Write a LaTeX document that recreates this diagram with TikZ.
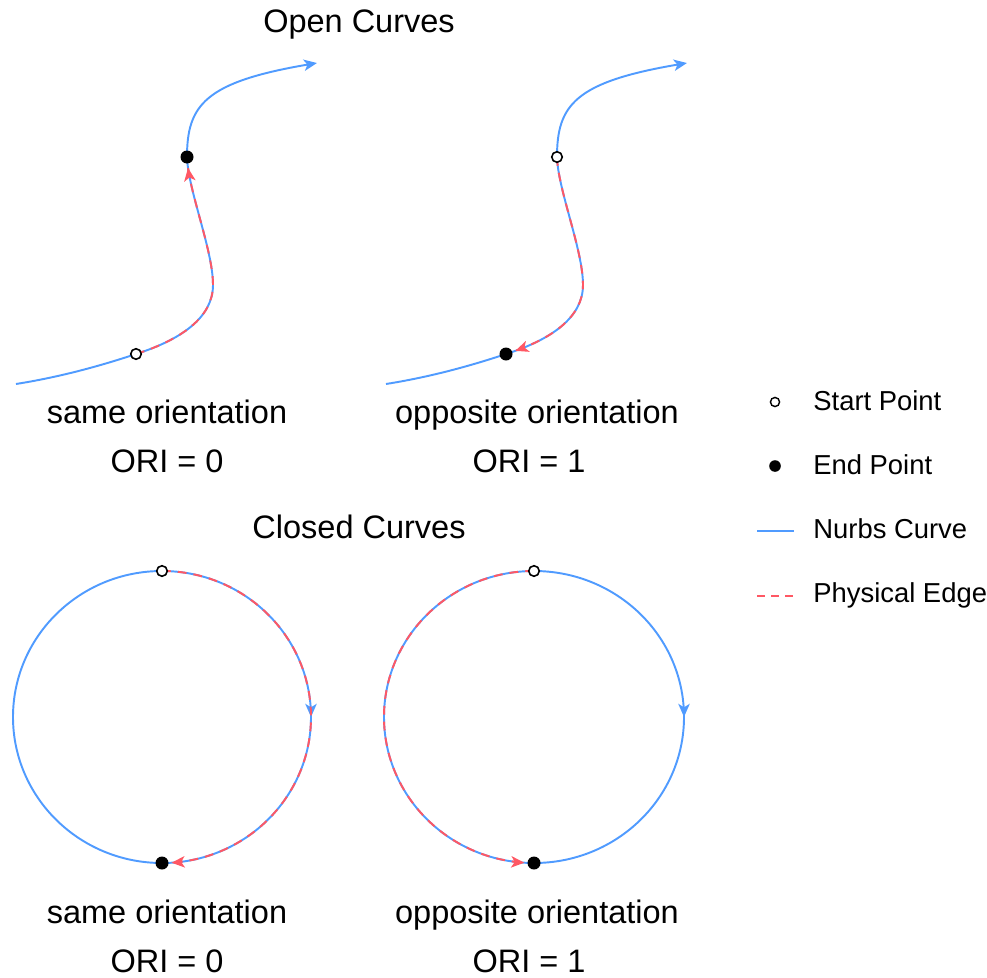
\documentclass[tikz,border=0pt]{standalone}
\usepackage{fontspec}
\setmainfont{Liberation Sans}
\usetikzlibrary{arrows.meta, decorations.markings}

\definecolor{nurbsblue}{RGB}{80,155,255}
\definecolor{edgered}{RGB}{255,88,100}

\begin{document}
\begin{tikzpicture}[
    x=0.02cm, y=0.02cm, % one unit is one pixel of the sketch
    >={Stealth[length=7.5pt, width=6.5pt, inset=2pt]}, % arrow tip of every curve
    nurbs/.style={nurbsblue, line width=1.1pt}, % the nurbs curve
    physedge/.style={edgered, line width=1.1pt, dash pattern=on 5pt off 4pt}, % physical edge on top
    startpt/.style={circle, draw=black, fill=white, line width=0.9pt, inner sep=0pt, minimum size=6pt},
    endpt/.style={circle, fill=black, inner sep=0pt, minimum size=7.4pt},
    midarrow/.style={postaction={decorate, decoration={markings, mark=at position 0.25 with {\arrow[nurbsblue]{>}}}}},
    endarrow/.style={postaction={decorate, decoration={markings, mark=at position 0.999 with {\arrow[edgered]{>}}}}},
    caption/.style={font=\fontsize{18.5}{22}\selectfont, inner sep=0pt, anchor=base},
    legtext/.style={font=\fontsize{15.6}{19}\selectfont, inner sep=0pt, anchor=base west}
]
    \useasboundingbox (0,0) rectangle (987,-977);

    % --- Open curves ---
    \node[caption] (opentitle) at (359,-32) {Open Curves};

    % same orientation
    \coordinate (s1) at (136,-354);
    \coordinate (e1) at (187,-157);
    \draw[nurbs, ->] (16,-384) .. controls (60,-377) and (100,-366) .. (s1)
        .. controls (180,-340) and (213,-318) .. (213,-285)
        .. controls (213,-250) and (188,-190) .. (e1)
        .. controls (187,-105) and (205,-82) .. (317,-63);
    % red edge stops just short of the end point, so its tip touches the dot
    \draw[physedge, endarrow] (s1) .. controls (180,-340) and (213,-318) .. (213,-285)
        .. controls (213,-253.5) and (192.75,-201.75) .. (188,-167.7);
    \node[startpt] (s1m) at (s1) {};
    \node[endpt] (e1m) at (e1) {};

    % opposite orientation (same curve, moved right)
    \begin{scope}[shift={(370,0)}]
        \coordinate (s2) at (187,-157);
        \coordinate (e2) at (136,-354);
        \draw[nurbs, ->] (16,-384) .. controls (60,-377) and (100,-366) .. (e2)
            .. controls (180,-340) and (213,-318) .. (213,-285)
            .. controls (213,-250) and (188,-190) .. (s2)
            .. controls (187,-105) and (205,-82) .. (317,-63);
        \draw[physedge, endarrow] (s2) .. controls (188,-190) and (213,-250) .. (213,-285)
            .. controls (213,-315.7) and (184.5,-336.9) .. (145.1,-350.9);
        \node[startpt] (s2m) at (s2) {};
        \node[endpt] (e2m) at (e2) {};
    \end{scope}

    \node[caption] (lblsame1) at (167,-423) {same orientation};
    \node[caption] (ori1) at (167,-472) {ORI = 0};
    \node[caption] (lblopp1) at (537,-423) {opposite orientation};
    \node[caption] (ori2) at (529,-472) {ORI = 1};

    % --- Closed curves ---
    \node[caption] (closedtitle) at (359,-538) {Closed Curves};

    % same orientation: edge runs clockwise down the right half
    \coordinate (s3) at (162,-571);
    \coordinate (e3) at (162,-863);
    \draw[nurbs, midarrow] (s3) arc[start angle=90, end angle=-270, x radius=149, y radius=146];
    \draw[physedge, endarrow] (s3) arc[start angle=90, end angle=-86.5, x radius=149, y radius=146];
    \node[startpt] (s3m) at (s3) {};
    \node[endpt] (e3m) at (e3) {};

    % opposite orientation: edge runs anticlockwise down the left half
    \coordinate (s4) at (534,-571);
    \coordinate (e4) at (534,-863);
    \draw[nurbs, midarrow] (s4) arc[start angle=90, end angle=-270, x radius=150, y radius=146];
    \draw[physedge, endarrow] (s4) arc[start angle=90, end angle=266.5, x radius=150, y radius=146];
    \node[startpt] (s4m) at (s4) {};
    \node[endpt] (e4m) at (e4) {};

    \node[caption] (lblsame2) at (167,-923) {same orientation};
    \node[caption] (ori3) at (167,-972) {ORI = 0};
    \node[caption] (lblopp2) at (537,-923) {opposite orientation};
    \node[caption] (ori4) at (529,-972) {ORI = 1};

    % --- Legend ---
    \node[startpt, minimum size=5.2pt, line width=0.8pt] (legstart) at (775,-402) {};
    \node[legtext] (legstarttxt) at (813,-410) {Start Point};
    \node[endpt, minimum size=6.6pt] (legend) at (775,-466) {};
    \node[legtext] (legendtxt) at (813,-474) {End Point};
    \coordinate (legnurbsa) at (757,-531);
    \coordinate (legnurbsb) at (794,-531);
    \draw[nurbs, line width=0.8pt] (legnurbsa) -- (legnurbsb);
    \node[legtext] (legnurbstxt) at (813,-538) {Nurbs Curve};
    \coordinate (legedgea) at (757,-596);
    \coordinate (legedgeb) at (794,-596);
    \draw[physedge, line width=0.8pt, dash pattern=on 4.5pt off 3.5pt] (legedgea) -- (legedgeb);
    \node[legtext] (legedgetxt) at (813,-602) {Physical Edge};
\end{tikzpicture}
\end{document}
